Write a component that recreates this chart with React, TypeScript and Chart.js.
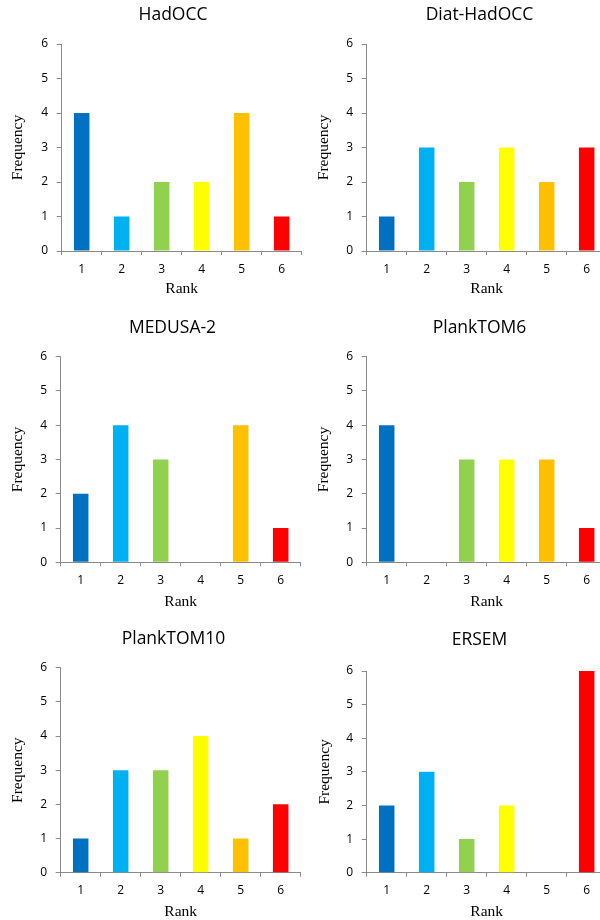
import React, { useEffect, useRef } from 'react';
import { Chart, registerables } from 'chart.js';

Chart.register(...registerables);

// ---- Data ----
const ranks = ['1', '2', '3', '4', '5', '6'];
const modelNames = ['HadOCC', 'Diat-HadOCC', 'MEDUSA-2', 'PlankTOM6', 'PlankTOM10', 'ERSEM'];
const hadoccFreq = [4, 1, 2, 2, 4, 1];
const diatHadoccFreq = [1, 3, 2, 3, 2, 3];
const medusa2Freq = [2, 4, 3, 0, 4, 1];
const plankTom6Freq = [4, 0, 3, 3, 3, 1];
const plankTom10Freq = [1, 3, 3, 4, 1, 2];
const ersemFreq = [2, 3, 1, 2, 0, 6];
const yTickMax = 6;
const yTickStep = 1;

const seriesList = [hadoccFreq, diatHadoccFreq, medusa2Freq, plankTom6Freq, plankTom10Freq, ersemFreq];

// ---- Styles ----
const rankColors = ['#0070C0', '#00B0F0', '#92D050', '#FFFF00', '#FFC000', '#FF0000'];
const axisColor = '#8a8a8a';
const textColor = '#000000';
const sansFamily = "'Open Sans', 'Noto Sans', sans-serif";
const serifFamily = "'Liberation Serif', 'DejaVu Serif', serif";
const titleSize = 17.5;
const tickSize = 12;
const axisTitleSize = 15.5;

// ---- Layout (page pixel targets for each panel) ----
const panelLayouts = [
  { canvasLeft: 0, titleX: 173, titleY: 15, plotLeft: 61.7, plotRight: 301.7, plotTop: 44, plotBottom: 251, tickY: 269.4, rankY: 288.8, freqX: 17.5 },
  { canvasLeft: 305, titleX: 479.5, titleY: 15, plotLeft: 366.7, plotRight: 606.7, plotTop: 44, plotBottom: 251, tickY: 269.4, rankY: 289, freqX: 324 },
  { canvasLeft: 0, titleX: 172.7, titleY: 328, plotLeft: 60.7, plotRight: 300.7, plotTop: 356.7, plotBottom: 562.3, tickY: 580.4, rankY: 601.8, freqX: 17.5 },
  { canvasLeft: 305, titleX: 479.7, titleY: 328, plotLeft: 366.7, plotRight: 606.7, plotTop: 356.7, plotBottom: 562.3, tickY: 580.4, rankY: 601.7, freqX: 324 },
  { canvasLeft: 0, titleX: 173.5, titleY: 639, plotLeft: 60.7, plotRight: 300.7, plotTop: 667.7, plotBottom: 872.7, tickY: 890.4, rankY: 911.7, freqX: 17.5 },
  { canvasLeft: 305, titleX: 479.5, titleY: 640, plotLeft: 366.7, plotRight: 606.7, plotTop: 671, plotBottom: 872.7, tickY: 890.4, rankY: 911.7, freqX: 324.5 },
];

function computeGeometry(g: any) {
  const L = g.canvasLeft;
  const T = Math.floor(g.titleY - 16);
  const B = Math.ceil(g.rankY + 10);
  const W = Math.round(2 * (g.titleX - L));
  const H = B - T;
  const titleLH = titleSize * 1.2;
  const tp = g.titleY - T - titleLH / 2;
  const tb = g.plotTop - T - tp - titleLH;
  const rightBox = L + W - g.plotRight;
  const yWidth = g.plotLeft - L;
  const xHeight = B - g.plotBottom;
  const tickLH = tickSize * 1.2;
  const xTickPad = g.tickY - g.plotBottom - 4 - tickLH / 2;
  const rankPad = B - g.rankY - axisTitleSize / 2;
  const freqPad = g.freqX - L - axisTitleSize / 2;
  return { L, T, W, H, tp, tb, rightBox, yWidth, xHeight, xTickPad, rankPad, freqPad };
}

function Panel({ title, values, layout }: { title: string; values: number[]; layout: any }) {
  const ref = useRef<HTMLCanvasElement | null>(null);
  const geo = computeGeometry(layout);

  useEffect(() => {
    if (!ref.current) return;
    const chart = new Chart(ref.current, {
      type: 'bar',
      data: {
        labels: ranks,
        datasets: [
          {
            data: values,
            backgroundColor: rankColors,
            borderWidth: 0,
            barPercentage: 0.3875,
            categoryPercentage: 1,
          },
        ],
      },
      options: {
        responsive: false,
        animation: false,
        devicePixelRatio: 1,
        layout: { padding: 0 },
        events: [],
        plugins: {
          legend: { display: false },
          tooltip: { enabled: false },
          title: {
            display: true,
            text: title,
            color: textColor,
            fullSize: true,
            font: { family: sansFamily, size: titleSize, weight: 'normal', lineHeight: 1.2 },
            padding: { top: geo.tp, bottom: geo.tb },
          },
        },
        scales: {
          x: {
            type: 'category',
            offset: true,
            grid: {
              display: true,
              offset: true,
              drawOnChartArea: false,
              drawTicks: true,
              tickLength: 4,
              color: axisColor,
            },
            border: { display: true, color: axisColor, width: 1 },
            ticks: {
              color: textColor,
              font: { family: sansFamily, size: tickSize, lineHeight: 1.2 },
              padding: geo.xTickPad,
              maxRotation: 0,
              autoSkip: false,
            },
            title: {
              display: true,
              text: 'Rank',
              color: textColor,
              font: { family: serifFamily, size: axisTitleSize, lineHeight: 1 },
              padding: { top: 0, bottom: geo.rankPad },
            },
            afterFit: (s: any) => {
              s.height = geo.xHeight;
            },
          },
          y: {
            type: 'linear',
            position: 'left',
            min: 0,
            max: yTickMax,
            grid: {
              display: true,
              drawOnChartArea: false,
              drawTicks: true,
              tickLength: 5,
              color: axisColor,
            },
            border: { display: true, color: axisColor, width: 1 },
            ticks: {
              stepSize: yTickStep,
              color: textColor,
              font: { family: sansFamily, size: tickSize, lineHeight: 1.2 },
              padding: 8.5,
            },
            title: {
              display: true,
              text: 'Frequency',
              color: textColor,
              font: { family: serifFamily, size: axisTitleSize, lineHeight: 1 },
              padding: { top: geo.freqPad, bottom: 0 },
            },
            afterFit: (s: any) => {
              s.width = geo.yWidth;
            },
          },
          y2: {
            type: 'linear',
            position: 'right',
            display: true,
            grid: { display: false },
            border: { display: false },
            ticks: { display: false },
            title: { display: false },
            afterFit: (s: any) => {
              s.width = geo.rightBox;
            },
          },
        },
      } as any,
    });
    return () => {
      chart.destroy();
    };
  }, []);

  return (
    <canvas
      ref={ref}
      width={geo.W}
      height={geo.H}
      style={{ position: 'absolute', left: geo.L, top: geo.T, width: geo.W, height: geo.H }}
    />
  );
}

export default function App() {
  return (
    <div
      style={{
        position: 'absolute',
        left: 0,
        top: 0,
        width: 600,
        height: 920,
        overflow: 'hidden',
        background: '#ffffff',
      }}
    >
      {modelNames.map((name, i) => (
        <Panel key={name} title={name} values={seriesList[i]} layout={panelLayouts[i]} />
      ))}
    </div>
  );
}
